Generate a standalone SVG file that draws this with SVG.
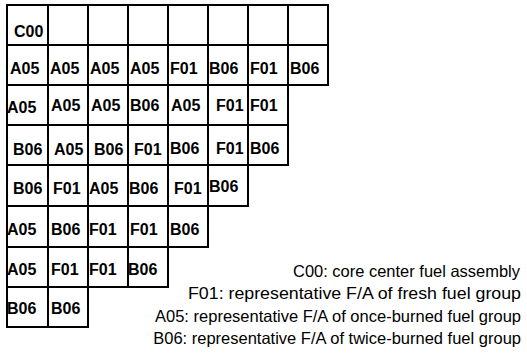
<svg xmlns="http://www.w3.org/2000/svg" width="527" height="353" viewBox="0 0 527 353">
<style>
.c{fill:#fff;stroke:#000;stroke-width:2}
.t{font-family:"Liberation Sans",Arial,sans-serif;font-size:16px;font-weight:bold;fill:#000}
.l{font-family:"Liberation Sans",Arial,sans-serif;font-size:16.5px;fill:#000;text-anchor:end}
</style>
<rect width="527" height="353" fill="#fff"/>
<g id="grid">
<g id="r0">
<g id="r0c0"><rect class="c" x="7" y="5" width="41" height="40"/><text class="t" x="14" y="37">C00</text></g>
<g id="r0c1"><rect class="c" x="48" y="5" width="40" height="40"/></g>
<g id="r0c2"><rect class="c" x="88" y="5" width="40" height="40"/></g>
<g id="r0c3"><rect class="c" x="128" y="5" width="40" height="40"/></g>
<g id="r0c4"><rect class="c" x="168" y="5" width="40" height="40"/></g>
<g id="r0c5"><rect class="c" x="208" y="5" width="40" height="40"/></g>
<g id="r0c6"><rect class="c" x="248" y="5" width="40" height="40"/></g>
<g id="r0c7"><rect class="c" x="288" y="5" width="40" height="40"/></g>
</g>
<g id="r1">
<g id="r1c0"><rect class="c" x="7" y="45" width="41" height="40"/><text class="t" x="10" y="74">A05</text></g>
<g id="r1c1"><rect class="c" x="48" y="45" width="40" height="40"/><text class="t" x="50" y="74">A05</text></g>
<g id="r1c2"><rect class="c" x="88" y="45" width="40" height="40"/><text class="t" x="90" y="74">A05</text></g>
<g id="r1c3"><rect class="c" x="128" y="45" width="40" height="40"/><text class="t" x="130" y="74">A05</text></g>
<g id="r1c4"><rect class="c" x="168" y="45" width="40" height="40"/><text class="t" x="170" y="74">F01</text></g>
<g id="r1c5"><rect class="c" x="208" y="45" width="40" height="40"/><text class="t" x="209" y="74">B06</text></g>
<g id="r1c6"><rect class="c" x="248" y="45" width="40" height="40"/><text class="t" x="250" y="74">F01</text></g>
<g id="r1c7"><rect class="c" x="288" y="45" width="40" height="40"/><text class="t" x="290" y="74">B06</text></g>
</g>
<g id="r2">
<g id="r2c0"><rect class="c" x="7" y="85" width="41" height="40"/><text class="t" x="7" y="113">A05</text></g>
<g id="r2c1"><rect class="c" x="48" y="85" width="40" height="40"/><text class="t" x="51" y="111">A05</text></g>
<g id="r2c2"><rect class="c" x="88" y="85" width="40" height="40"/><text class="t" x="91" y="111">A05</text></g>
<g id="r2c3"><rect class="c" x="128" y="85" width="40" height="40"/><text class="t" x="130" y="111">B06</text></g>
<g id="r2c4"><rect class="c" x="168" y="85" width="40" height="40"/><text class="t" x="171" y="111">A05</text></g>
<g id="r2c5"><rect class="c" x="208" y="85" width="40" height="40"/><text class="t" x="216" y="111">F01</text></g>
<g id="r2c6"><rect class="c" x="248" y="85" width="40" height="40"/><text class="t" x="250" y="111">F01</text></g>
</g>
<g id="r3">
<g id="r3c0"><rect class="c" x="7" y="125" width="41" height="40"/><text class="t" x="13" y="155">B06</text></g>
<g id="r3c1"><rect class="c" x="48" y="125" width="40" height="40"/><text class="t" x="54" y="155">A05</text></g>
<g id="r3c2"><rect class="c" x="88" y="125" width="40" height="40"/><text class="t" x="94" y="155">B06</text></g>
<g id="r3c3"><rect class="c" x="128" y="125" width="40" height="40"/><text class="t" x="134" y="155">F01</text></g>
<g id="r3c4"><rect class="c" x="168" y="125" width="40" height="40"/><text class="t" x="170" y="154">B06</text></g>
<g id="r3c5"><rect class="c" x="208" y="125" width="40" height="40"/><text class="t" x="216" y="154">F01</text></g>
<g id="r3c6"><rect class="c" x="248" y="125" width="40" height="40"/><text class="t" x="250" y="154">B06</text></g>
</g>
<g id="r4">
<g id="r4c0"><rect class="c" x="7" y="165" width="41" height="41"/><text class="t" x="13" y="194">B06</text></g>
<g id="r4c1"><rect class="c" x="48" y="165" width="40" height="41"/><text class="t" x="53" y="194">F01</text></g>
<g id="r4c2"><rect class="c" x="88" y="165" width="40" height="41"/><text class="t" x="89" y="194">A05</text></g>
<g id="r4c3"><rect class="c" x="128" y="165" width="40" height="41"/><text class="t" x="129" y="194">B06</text></g>
<g id="r4c4"><rect class="c" x="168" y="165" width="40" height="41"/><text class="t" x="174" y="194">F01</text></g>
<g id="r4c5"><rect class="c" x="208" y="165" width="40" height="41"/><text class="t" x="209" y="192">B06</text></g>
</g>
<g id="r5">
<g id="r5c0"><rect class="c" x="7" y="206" width="41" height="41"/><text class="t" x="7" y="235">A05</text></g>
<g id="r5c1"><rect class="c" x="48" y="206" width="40" height="41"/><text class="t" x="51" y="235">B06</text></g>
<g id="r5c2"><rect class="c" x="88" y="206" width="40" height="41"/><text class="t" x="89" y="235">F01</text></g>
<g id="r5c3"><rect class="c" x="128" y="206" width="40" height="41"/><text class="t" x="130" y="235">F01</text></g>
<g id="r5c4"><rect class="c" x="168" y="206" width="40" height="41"/><text class="t" x="170" y="235">B06</text></g>
</g>
<g id="r6">
<g id="r6c0"><rect class="c" x="7" y="247" width="41" height="40"/><text class="t" x="7" y="275">A05</text></g>
<g id="r6c1"><rect class="c" x="48" y="247" width="40" height="40"/><text class="t" x="51" y="275">F01</text></g>
<g id="r6c2"><rect class="c" x="88" y="247" width="40" height="40"/><text class="t" x="89" y="275">F01</text></g>
<g id="r6c3"><rect class="c" x="128" y="247" width="40" height="40"/><text class="t" x="128" y="275">B06</text></g>
</g>
<g id="r7">
<g id="r7c0"><rect class="c" x="7" y="287" width="41" height="40"/><text class="t" x="7" y="314">B06</text></g>
<g id="r7c1"><rect class="c" x="48" y="287" width="40" height="40"/><text class="t" x="51" y="314">B06</text></g>
</g>
</g>
<g id="legend">
<text class="l" x="520" y="277" textLength="227" lengthAdjust="spacingAndGlyphs">C00: core center fuel assembly</text>
<text class="l" x="521" y="299" textLength="333" lengthAdjust="spacingAndGlyphs">F01: representative F/A of fresh fuel group</text>
<text class="l" x="521" y="322" font-size="15.5">A05: representative F/A of once-burned fuel group</text>
<text class="l" x="521" y="344" font-size="15.5">B06: representative F/A of twice-burned fuel group</text>
</g>
</svg>
